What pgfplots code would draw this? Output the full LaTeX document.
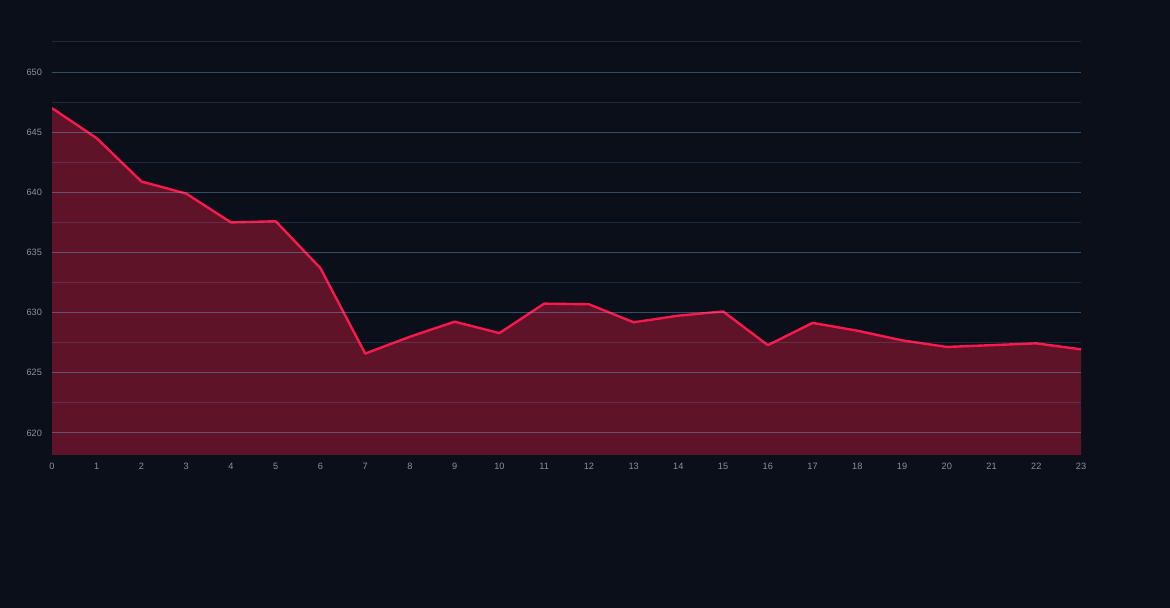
\documentclass[border=0pt]{standalone}
\usepackage{fontspec}
\setmainfont{Liberation Sans}
\usepackage{pgfplots}
\pgfplotsset{compat=1.18}

\definecolor{bg}{HTML}{0B0F19}
\definecolor{areafill}{HTML}{5F1329}
\definecolor{linered}{HTML}{FA184C}
\definecolor{gridc}{HTML}{78AADC}
\definecolor{tickc}{HTML}{8A909C}

\begin{document}
\begin{tikzpicture}
\fill[bg] (0,0) rectangle (585pt,304pt);
\begin{axis}[
	at={(26pt,76.5pt)}, anchor=south west,
	scale only axis, width=514.5pt, height=206.8pt,
	axis on top,
	xmin=0, xmax=23, ymin=618.17, ymax=652.55,
	xtick={0,1,...,23}, ytick={620,625,...,650},
	minor ytick={622.5,627.5,...,652.5},
	axis line style={draw=none},
	major tick length=0pt, minor tick length=0pt,
	ymajorgrids, yminorgrids,
	major grid style={gridc, opacity=0.4, line width=0.5pt},
	minor grid style={gridc, opacity=0.18, line width=0.5pt},
	tick label style={font=\fontsize{4.6}{5}\selectfont, text=tickc},
	/pgf/number format/assume math mode=true,
	yticklabel style={xshift=-1.5pt},
	xticklabel style={yshift=-0.6pt},
]
\addplot[fill=areafill, draw=none] coordinates {
	(0,647.0) (1,644.5) (2,640.9) (3,639.9) (4,637.5) (5,637.6)
	(6,633.7) (7,626.6) (8,628.0) (9,629.25) (10,628.3) (11,630.75)
	(12,630.7) (13,629.2) (14,629.75) (15,630.1) (16,627.3) (17,629.15)
	(18,628.5) (19,627.7) (20,627.15) (21,627.3) (22,627.45) (23,626.95)
} \closedcycle;
\addplot[linered, line width=1.2pt, line join=round] coordinates {
	(0,647.0) (1,644.5) (2,640.9) (3,639.9) (4,637.5) (5,637.6)
	(6,633.7) (7,626.6) (8,628.0) (9,629.25) (10,628.3) (11,630.75)
	(12,630.7) (13,629.2) (14,629.75) (15,630.1) (16,627.3) (17,629.15)
	(18,628.5) (19,627.7) (20,627.15) (21,627.3) (22,627.45) (23,626.95)
};
\end{axis}
\useasboundingbox (0,0) rectangle (585pt,304pt);
\end{tikzpicture}
\end{document}
